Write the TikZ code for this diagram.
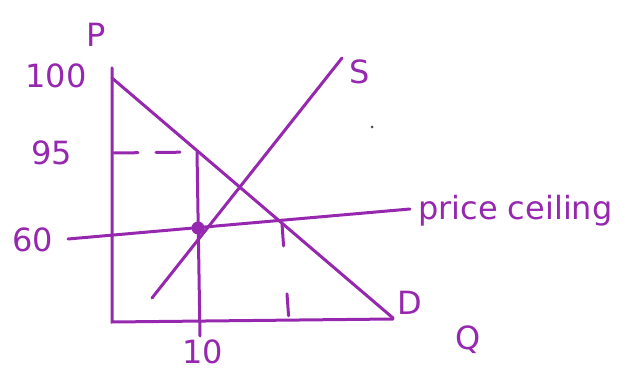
\documentclass[tikz,border=0pt]{standalone}
\usepackage{fontspec}
\setmainfont{DejaVu Sans}
\definecolor{ink}{RGB}{150,40,175}
\tikzset{
  ink line/.style={draw=ink, line width=3pt, line cap=round},
  dash line/.style={ink line, dash pattern=on 24pt off 18pt},
  lbl/.style={text=ink, inner sep=0pt, font=\fontsize{32}{34}\selectfont},
}
\begin{document}
\begin{tikzpicture}[x=1pt,y=-1pt]
\useasboundingbox (0,0) rectangle (639,371);
% axes
\coordinate (ytop) at (112,68);
\coordinate (orig) at (112,322);
\coordinate (xend) at (393,319);
\draw[ink line] (ytop) -- (orig) -- (xend);
% demand
\coordinate (dtop) at (112,78);
\coordinate (dbot) at (393,318);
\draw[ink line] (dtop) -- (dbot);
% supply
\coordinate (sbot) at (152,298);
\coordinate (stop) at (342,58);
\draw[ink line] (sbot) -- (stop);
% price ceiling
\coordinate (pcl) at (68,239);
\coordinate (pcr) at (410,209);
\draw[ink line] (pcl) -- (pcr);
% vertical at Q=10
\coordinate (v95) at (197,152);
\coordinate (v10) at (200,336);
\draw[ink line] (v95) -- (v10);
% dashed at 95
\coordinate (h95) at (114,153);
\draw[dash line] (h95) -- (v95);
% dashed from ceiling/demand
\coordinate (cd) at (282,224);
\coordinate (cdq) at (289,322);
\draw[dash line, dash pattern=on 22pt off 48pt] (cd) -- (cdq);
% dot
\node[circle, fill=ink, minimum size=13pt, inner sep=0pt] (eqdot) at (198,228) {};
\fill[black!70] (372,127) circle (1.5pt);
% labels
\node[lbl] (lP) at (96,35) {P};
\node[lbl] (l100) at (56,76) {100};
\node[lbl] (l95) at (52,153) {95};
\node[lbl] (l60) at (33,240) {60};
\node[lbl] (l10) at (203,352) {10};
\node[lbl] (lS) at (360,72) {S};
\node[lbl] (lD) at (410,303) {D};
\node[lbl] (lQ) at (468,340) {Q};
\node[lbl, anchor=west] (lpc) at (418,211) {price ceiling};
\end{tikzpicture}
\end{document}
